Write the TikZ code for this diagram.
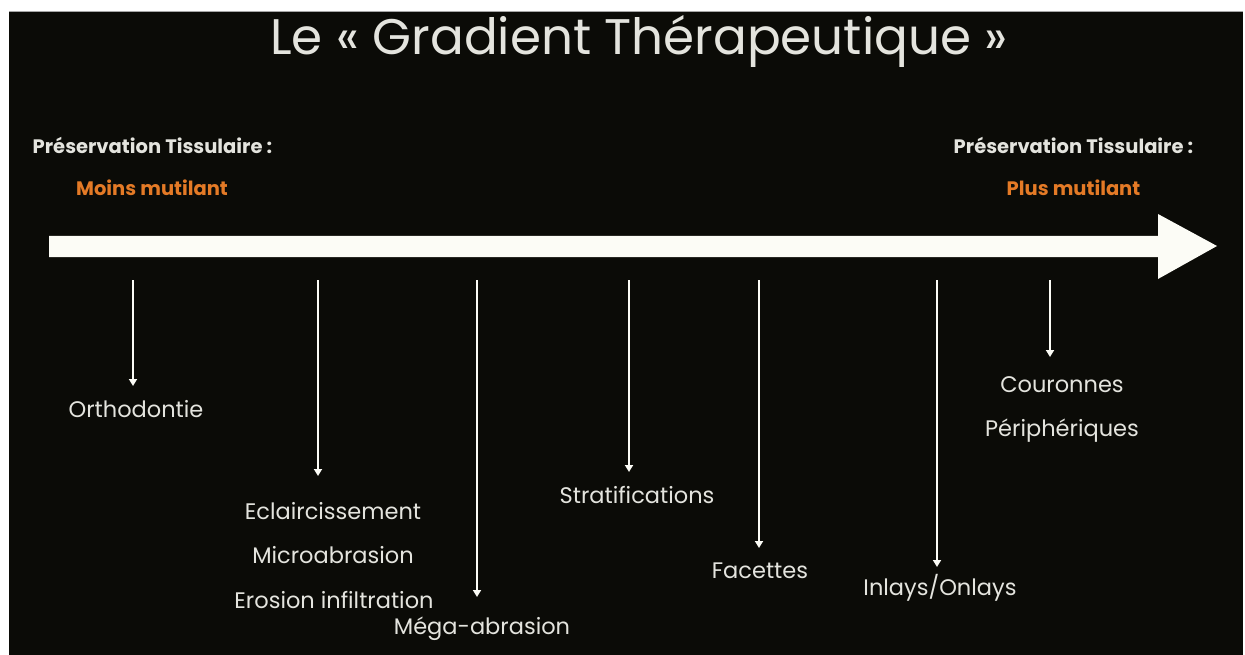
\documentclass[tikz,border=0pt]{standalone}
\usepackage{fontspec}
\setmainfont{Poppins}
\usetikzlibrary{arrows.meta}
\definecolor{bg}{RGB}{11,11,7}
\definecolor{fg}{RGB}{228,228,222}
\definecolor{org}{RGB}{228,122,38}
\definecolor{arrowfill}{RGB}{252,252,246}
\begin{document}
\begin{tikzpicture}[x=1pt,y=-1pt,
  lbl/.style={text=fg, font=\fontsize{22.5}{26}\selectfont, inner sep=0pt, anchor=base},
  hdr/.style={text=fg, font=\fontsize{19.5}{23}\selectfont\bfseries, inner sep=0pt, anchor=base},
  sub/.style={text=org, font=\fontsize{19.5}{23}\selectfont\bfseries, inner sep=0pt, anchor=base},
  ttl/.style={text=fg, font=\fontsize{50}{56}\selectfont, inner sep=0pt, anchor=base},
  tick/.style={draw=arrowfill, line width=1.9pt, -{Triangle[width=8pt,length=7pt]}}]
\useasboundingbox (0,0) rectangle (1245,655);
\fill[white] (0,0) rectangle (1245,655);
\fill[bg] (9,11) rectangle (1243,655);
\draw[gray!70, line width=0.8pt] (9,11) -- (1243,11);
% title
\node[ttl] (title) at (639,55) {Le « Gradient Thérapeutique »};
% headers
\node[hdr] (hl) at (152.5,154) {Préservation Tissulaire :};
\node[sub] (sl) at (152,196) {Moins mutilant};
\node[hdr] (hr) at (1073.5,154) {Préservation Tissulaire :};
\node[sub] (sr) at (1073.5,196) {Plus mutilant};
% big arrow
\fill[arrowfill] (49,236) -- (1158,236) -- (1158,214) -- (1217,246) -- (1158,279) -- (1158,257) -- (49,257) -- cycle;
% labels
\node[lbl] (orth) at (136,417) {Orthodontie};
\node[lbl] (ecl) at (333,519) {Eclaircissement};
\node[lbl] (micro) at (333,563) {Microabrasion};
\node[lbl] (eros) at (334,608) {Erosion infiltration};
\node[lbl] (mega) at (482,634) {Méga-abrasion};
\node[lbl] (strat) at (637,503) {Stratifications};
\node[lbl] (fac) at (760,578) {Facettes};
\node[lbl] (inl) at (940,595) {Inlays/Onlays};
\node[lbl] (cour) at (1062,392) {Couronnes};
\node[lbl] (peri) at (1062,436) {Périphériques};
% tick coordinates
\coordinate (s1) at (133,280); \coordinate (e1) at (133,386);
\coordinate (s2) at (318,280); \coordinate (e2) at (318,476);
\coordinate (s3) at (477,280); \coordinate (e3) at (477,597);
\coordinate (s4) at (629,280); \coordinate (e4) at (629,472);
\coordinate (s5) at (759,280); \coordinate (e5) at (759,548);
\coordinate (s6) at (937,280); \coordinate (e6) at (937,567);
\coordinate (s7) at (1050,280); \coordinate (e7) at (1050,357);
\draw[tick] (s1) -- (e1);
\draw[tick] (s2) -- (e2);
\draw[tick] (s3) -- (e3);
\draw[tick] (s4) -- (e4);
\draw[tick] (s5) -- (e5);
\draw[tick] (s6) -- (e6);
\draw[tick] (s7) -- (e7);
\end{tikzpicture}
\end{document}
